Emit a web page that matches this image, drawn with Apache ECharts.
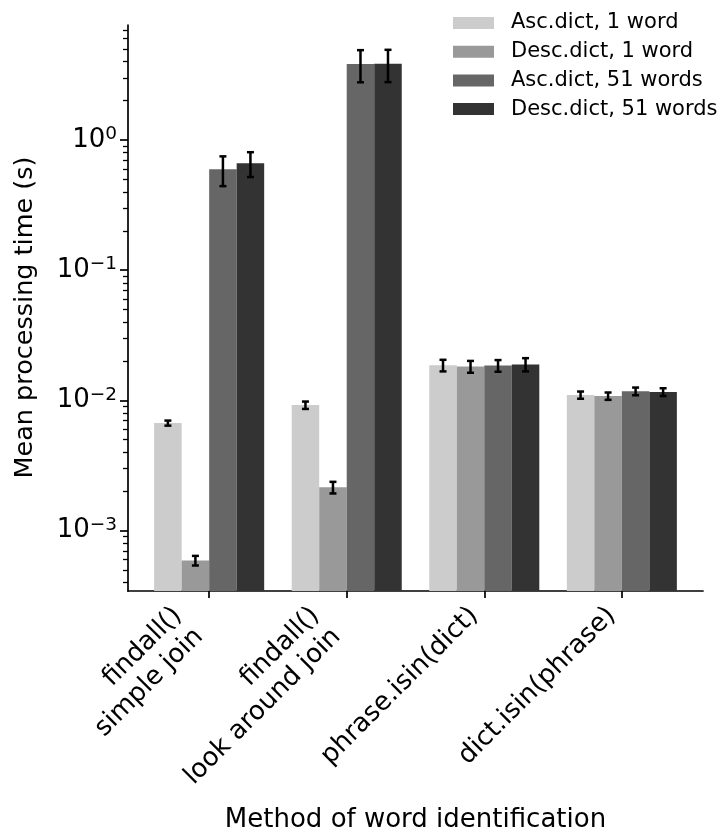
<!DOCTYPE html>
<html><head><meta charset="utf-8">
<script src="https://cdn.jsdelivr.net/npm/echarts@6/dist/echarts.min.js"></script>
<style>html,body{margin:0;padding:0;background:#fff}#c{width:720px;height:830px}</style>
</head><body><div id="c"></div>
<script>
// ---- data ----
const categories = ['findall()\nsimple join', 'findall()\nlook around join', 'phrase.isin(dict)', 'dict.isin(phrase)'];
const seriesNames = ['Asc.dict, 1 word', 'Desc.dict, 1 word', 'Asc.dict, 51 words', 'Desc.dict, 51 words'];
const ascOneMean   = [0.0067, 0.0092, 0.0186, 0.0110];
const ascOneErr    = [0.0003, 0.0006, 0.0019, 0.0007];
const descOneMean  = [0.00059, 0.00215, 0.0182, 0.0108];
const descOneErr   = [0.00005, 0.00022, 0.0019, 0.0007];
const ascManyMean  = [0.595, 3.83, 0.0185, 0.01175];
const ascManyErr   = [0.153, 1.06, 0.0019, 0.0008];
const descManyMean = [0.662, 3.85, 0.0189, 0.0116];
const descManyErr  = [0.143, 1.07, 0.0022, 0.0008];
const yMajorTicks = [0.001, 0.01, 0.1, 1];
const yMinorTicks = [0.0004, 0.0005, 0.0006, 0.0007, 0.0008, 0.0009,
  0.002, 0.003, 0.004, 0.005, 0.006, 0.007, 0.008, 0.009,
  0.02, 0.03, 0.04, 0.05, 0.06, 0.07, 0.08, 0.09,
  0.2, 0.3, 0.4, 0.5, 0.6, 0.7, 0.8, 0.9,
  2, 3, 4, 5, 6, 7];
const xTickValues = [0, 1, 2, 3];

// ---- style ----
const colors = ['#cccccc', '#999999', '#666666', '#333333'];
const FONT = 'DejaVu Sans';
const Y_MIN = 3.44e-4, Y_MAX = 7.63;
const X_MIN = -0.59, X_MAX = 3.59;
const BAR_W = 0.2;
const TICK_FS = 26;
const LABEL_LH = 30, LABEL_PAD = 10;

const means = [ascOneMean, descOneMean, ascManyMean, descManyMean];
const errs = [ascOneErr, descOneErr, ascManyErr, descManyErr];

function barRender(s) {
  return function (params, api) {
    const j = api.value(0), v = api.value(1), e = api.value(2);
    const c = j + (s - 1.5) * BAR_W;
    const p0 = api.coord([c - BAR_W / 2, v]);
    const p1 = api.coord([c + BAR_W / 2, Y_MIN]);
    const t = api.coord([c, v + e]);
    const b = api.coord([c, v - e]);
    const cap = 3.5;
    const ls = { stroke: '#000', lineWidth: 2.5 };
    return {
      type: 'group', children: [
        { type: 'rect', shape: { x: p0[0], y: p0[1], width: p1[0] - p0[0], height: p1[1] - p0[1] }, style: { fill: colors[s] } },
        { type: 'line', z2: 10, shape: { x1: t[0], y1: t[1], x2: b[0], y2: b[1] }, style: ls },
        { type: 'line', z2: 10, shape: { x1: t[0] - cap, y1: t[1], x2: t[0] + cap, y2: t[1] }, style: ls },
        { type: 'line', z2: 10, shape: { x1: b[0] - cap, y1: b[1], x2: b[0] + cap, y2: b[1] }, style: ls }
      ]
    };
  };
}

const series = seriesNames.map((name, s) => ({
  name: name,
  type: 'custom',
  coordinateSystem: 'cartesian2d',
  xAxisIndex: 0, yAxisIndex: 0,
  itemStyle: { color: colors[s] },
  encode: { x: 0, y: 1 },
  data: categories.map((c, j) => [j, means[s][j], errs[s][j]]),
  renderItem: barRender(s),
  silent: true
}));

series.push({
  name: 'xlabels',
  type: 'custom',
  coordinateSystem: 'cartesian2d',
  xAxisIndex: 0, yAxisIndex: 0,
  encode: { x: 0, y: 1 },
  data: xTickValues.map(v => [v, Y_MIN]),
  silent: true,
  renderItem: function (params, api) {
    const j = api.value(0);
    const p = api.coord([j, Y_MIN]);
    const lines = categories[j].split('\n');
    const h = (lines.length - 1) * LABEL_LH + 25;
    return {
      type: 'text',
      x: p[0] - 0.7071 * h - 3,
      y: p[1] + LABEL_PAD,
      rotation: Math.PI / 4,
      style: { text: categories[j], align: 'right', verticalAlign: 'top', fontSize: TICK_FS, fontFamily: FONT, fill: '#000', lineHeight: LABEL_LH }
    };
  }
});

const chart = echarts.init(document.getElementById('c'), null, { renderer: 'canvas' });
chart.setOption({
  animation: false,
  backgroundColor: '#fff',
  textStyle: { fontFamily: FONT },
  grid: { left: 128, right: 17, top: 25, bottom: 239, containLabel: false, outerBoundsMode: 'none' },
  legend: {
    data: seriesNames.map(n => ({ name: n, icon: 'rect' })),
    orient: 'vertical',
    left: 453, top: 12, padding: 0,
    itemWidth: 41, itemHeight: 12, itemGap: 6.7,
    textStyle: { fontSize: 21, fontFamily: FONT, color: '#000', lineHeight: 22, padding: [0, 0, 0, 12] },
    selectedMode: false
  },
  xAxis: {
    type: 'value', min: X_MIN, max: X_MAX,
    axisLine: { show: true, onZero: false, lineStyle: { color: '#000', width: 1.7 } },
    axisTick: { show: true, length: 7, lineStyle: { color: '#000', width: 1.7 }, customValues: xTickValues },
    axisLabel: { show: false },
    splitLine: { show: false },
    name: 'Method of word identification', nameLocation: 'middle', nameGap: 216,
    nameTextStyle: { fontSize: 26, fontFamily: FONT, color: '#000', lineHeight: 26 }
  },
  yAxis: [{
    type: 'log', logBase: 10, min: Y_MIN, max: Y_MAX, position: 'left',
    axisLine: { show: true, onZero: false, lineStyle: { color: '#000', width: 1.7 } },
    axisTick: { show: true, length: 8, lineStyle: { color: '#000', width: 1.7 }, customValues: yMajorTicks },
    axisLabel: {
      customValues: yMajorTicks, margin: 11,
      formatter: function (v) {
        const ex = v > 0 ? Math.round(Math.log10(v)) : Math.round(v);
        return '{b|10}{s|' + (ex < 0 ? '\u2212' + (-ex) : ex) + '}';
      },
      rich: {
        b: { fontSize: TICK_FS, fontFamily: FONT, color: '#000', lineHeight: 30 },
        s: { fontSize: 18.5, fontFamily: FONT, color: '#000', lineHeight: 18, verticalAlign: 'top' }
      }
    },
    splitLine: { show: false },
    minorTick: { show: false },
    name: 'Mean processing time (s)', nameLocation: 'middle', nameGap: 90,
    nameTextStyle: { fontSize: 25.5, fontFamily: FONT, color: '#000', lineHeight: 25, padding: [0, 19, 0, 0] }
  }, {
    type: 'log', logBase: 10, min: Y_MIN, max: Y_MAX, position: 'left',
    axisLine: { show: false, onZero: false },
    axisTick: { show: true, length: 5, lineStyle: { color: '#000', width: 1.3 }, customValues: yMinorTicks },
    axisLabel: { show: false },
    splitLine: { show: false }
  }],
  series: series
});
</script></body></html>
